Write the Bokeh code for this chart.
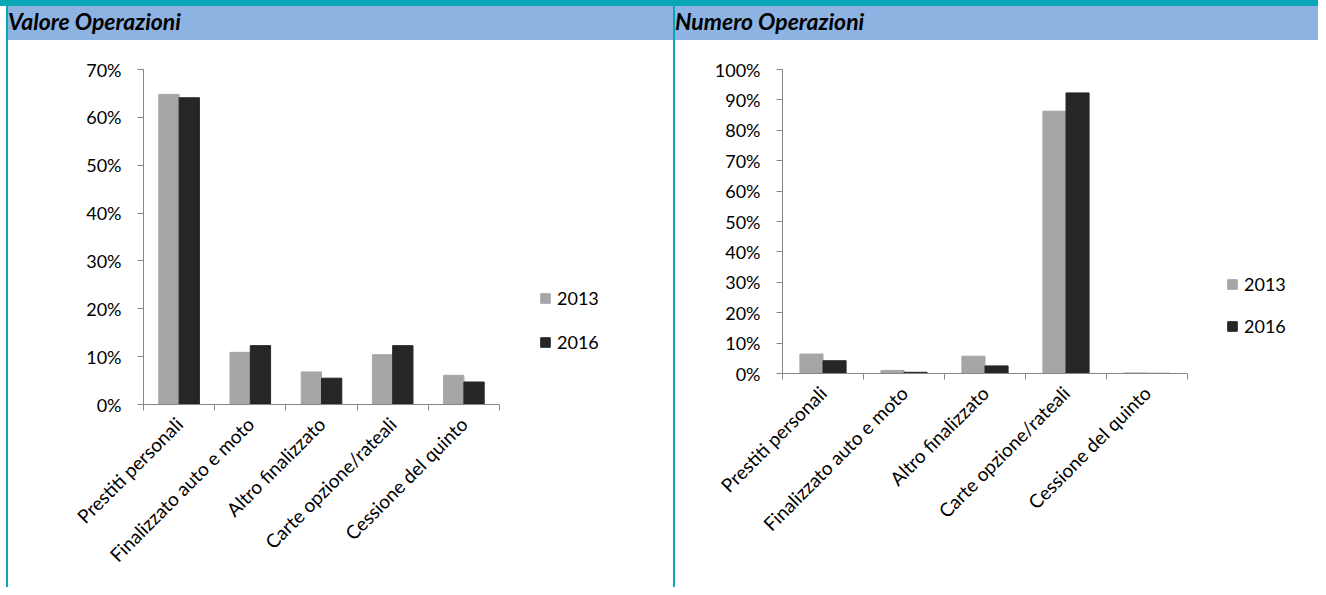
import math
from bokeh.plotting import figure
from bokeh.layouts import row, column
from bokeh.models import (ColumnDataSource, Range1d, FixedTicker, PrintfTickFormatter,
                          Legend, LegendItem, Div)
from bokeh.transform import dodge
from bokeh.embed import file_html
from bokeh.resources import INLINE

# ---------------- data ----------------
categories = ["Prestiti personali", "Finalizzato auto e moto", "Altro finalizzato",
              "Carte opzione/rateali", "Cessione del quinto"]
years = ["2013", "2016"]
valore_2013 = [64.8, 10.9, 6.8, 10.4, 6.1]
valore_2016 = [64.1, 12.3, 5.5, 12.3, 4.7]
numero_2013 = [6.4, 1.0, 5.7, 86.3, 0.2]
numero_2016 = [4.2, 0.4, 2.5, 92.3, 0.05]
titles = ["Valore Operazioni", "Numero Operazioni"]

# ---------------- style ----------------
FONT = "Lato"
C13 = "#A6A6A6"
C16 = "#262626"
AXIS = "#868686"
TEAL = "#09A6B6"
HEADER = "#8DB3E2"


def chart(v13, v16, ymax, width, height, left, top, bottom, axis_px, leg_loc, leg_spacing):
    n = len(categories)
    pos = [i + 1 for i in range(n)]
    frame_w = width - left
    x_end = 0.5 + frame_w / (axis_px / n)   # extra frame room on the right holds the legend
    src = ColumnDataSource(dict(x=pos, cat=categories, v13=v13, v16=v16))
    p = figure(width=width, height=height,
               min_border_left=left, min_border_right=0,
               min_border_top=top, min_border_bottom=bottom,
               x_range=Range1d(0.5, x_end), y_range=Range1d(0, ymax),
               toolbar_location=None, output_backend="svg",
               background_fill_color="white", border_fill_color="white",
               outline_line_color=None)
    r1 = p.vbar(x=dodge("x", -0.1425, range=p.x_range), top="v13", width=0.285, source=src,
                fill_color=C13, line_color=C13)
    r2 = p.vbar(x=dodge("x", 0.1425, range=p.x_range), top="v16", width=0.285, source=src,
                fill_color=C16, line_color=C16)
    p.grid.visible = False

    xa = p.xaxis[0]
    xa.bounds = (0.5, n + 0.5)
    xa.ticker = FixedTicker(ticks=pos, minor_ticks=[k + 0.5 for k in range(n + 1)])
    xa.major_label_overrides = {k: c for k, c in zip(pos, categories)}
    xa.major_label_orientation = math.pi / 4
    xa.major_tick_line_color = None
    xa.major_tick_out = 6
    xa.minor_tick_line_color = AXIS
    xa.minor_tick_out = 6
    xa.minor_tick_in = 0
    xa.axis_line_color = AXIS
    xa.major_label_text_font = FONT
    xa.major_label_text_font_size = "19px"
    xa.major_label_text_color = "black"
    xa.major_label_standoff = 10

    ya = p.yaxis[0]
    ya.ticker = FixedTicker(ticks=list(range(0, ymax + 1, 10)))
    ya.formatter = PrintfTickFormatter(format="%d%%")
    ya.axis_line_color = AXIS
    ya.major_tick_line_color = AXIS
    ya.major_tick_out = 6
    ya.major_tick_in = 0
    ya.minor_tick_line_color = None
    ya.major_label_text_font = FONT
    ya.major_label_text_font_size = "18px"
    ya.major_label_text_color = "black"
    ya.major_label_standoff = 16

    leg = Legend(items=[LegendItem(label=years[0], renderers=[r1]),
                        LegendItem(label=years[1], renderers=[r2])],
                 location=leg_loc, border_line_color=None, background_fill_alpha=0,
                 label_text_font=FONT, label_text_font_size="18px", label_text_color="black",
                 glyph_width=12, glyph_height=12, label_standoff=6, spacing=leg_spacing,
                 padding=5, margin=0)
    p.add_layout(leg)
    return p


def header(text, w):
    return Div(text=text, width=w, height=34, margin=(0, 0, 0, 0),
               styles={"background-color": HEADER, "font-family": FONT,
                       "font-weight": "bold", "font-style": "italic", "font-size": "23px",
                       "line-height": "30px", "padding-left": "0px", "color": "black",
                       "box-sizing": "border-box", "overflow": "hidden",
                       "white-space": "nowrap"})


def block(w, h, color):
    return Div(text="", width=w, height=h, margin=(0, 0, 0, 0),
               styles={"background-color": color})


left_chart = chart(valore_2013, valore_2016, 70, 665, 547, 135, 29, 183, 356, (396, 51), 22)
right_chart = chart(numero_2013, numero_2016, 100, 643, 547, 107, 29, 214, 405, (444, 36), 20)

layout = column(
    block(1318, 6, TEAL),
    row(block(6, 581, "white"),
        block(2, 581, TEAL),
        column(header(titles[0], 665), left_chart, spacing=0),
        block(2, 581, TEAL),
        column(header(titles[1], 643), right_chart, spacing=0),
        spacing=0),
    spacing=0)

open("out.html", "w").write(file_html(layout, INLINE))
